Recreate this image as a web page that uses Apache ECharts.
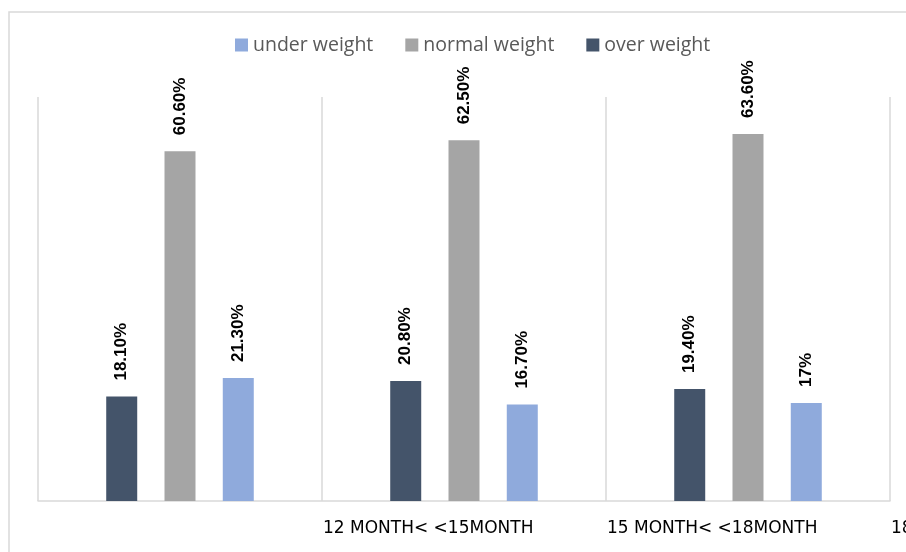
<!DOCTYPE html>
<html>
<head>
<meta charset="utf-8">
<script src="https://cdn.jsdelivr.net/npm/echarts@6/dist/echarts.min.js"></script>
<style>
  html, body { margin: 0; padding: 0; background: #fff; }
  #main { width: 906px; height: 552px; }
</style>
</head>
<body>
<div id="main"></div>
<script>
// data
var groups = ['group 1', 'group 2', 'group 3'];
// labels sit on the split lines (left aligned), the first one is empty
var tickLabels = ['', '12 MONTH< <15MONTH', '15 MONTH< <18MONTH', '18 MONTH< <24MONTH'];
var legendOrder = ['under weight', 'normal weight', 'over weight'];
var overWeight = [18.1, 20.8, 19.4];
var normalWeight = [60.6, 62.5, 63.6];
var underWeight = [21.3, 16.7, 17];

var myChart = echarts.init(document.getElementById('main'));

function pct(p) {
    var v = p.value;
    return (Number.isInteger(v) ? v : v.toFixed(2)) + '%';
}

var barLabel = {
    show: true,
    position: 'top',
    rotate: 90,
    align: 'left',
    verticalAlign: 'middle',
    distance: 16,
    color: '#000',
    fontWeight: 'bold',
    fontSize: 17,
    fontFamily: 'Liberation Sans',
    formatter: pct
};

var option = {
    backgroundColor: '#fff',
    animation: false,
    graphic: [{
        type: 'rect',
        shape: { x: 9, y: 12, width: 1000, height: 1000 },
        style: { fill: 'none', stroke: '#d9d9d9', lineWidth: 1.5 },
        silent: true
    }],
    legend: {
        data: legendOrder,
        top: 30,
        left: 230,
        icon: 'rect',
        itemWidth: 13,
        itemHeight: 13,
        itemGap: 32,
        textStyle: { color: '#595959', fontSize: 19.5, fontFamily: 'Open Sans' }
    },
    grid: { left: 38, right: 16, top: 97, bottom: 51, containLabel: false, outerBoundsMode: 'none' },
    xAxis: [{
        type: 'category',
        data: groups,
        axisLine: { lineStyle: { color: '#d9d9d9', width: 1.5 } },
        axisTick: { show: false },
        axisLabel: { show: false },
        splitLine: { show: true, interval: 0, lineStyle: { color: '#d9d9d9', width: 1.5 } }
    }, {
        type: 'category',
        data: tickLabels,
        position: 'bottom',
        boundaryGap: false,
        axisLine: { show: false },
        axisTick: { show: false },
        splitLine: { show: false },
        axisLabel: {
            interval: 0,
            align: 'left',
            margin: 19,
            color: '#000',
            fontSize: 17,
            fontFamily: 'DejaVu Sans',
            padding: [0, 0, 0, 1]
        }
    }],
    yAxis: {
        type: 'value',
        min: 0,
        max: 70,
        show: false
    },
    series: [{
        name: 'over weight',
        type: 'bar',
        data: overWeight,
        barWidth: 31,
        barGap: '88%',
        itemStyle: { color: '#44546A' },
        label: barLabel
    }, {
        name: 'normal weight',
        type: 'bar',
        data: normalWeight,
        barWidth: 31,
        barGap: '88%',
        itemStyle: { color: '#A5A5A5' },
        label: barLabel
    }, {
        name: 'under weight',
        type: 'bar',
        data: underWeight,
        barWidth: 31,
        barGap: '88%',
        itemStyle: { color: '#8FAADC' },
        label: barLabel
    }]
};

myChart.setOption(option, true);
window.onresize = myChart.resize;
</script>
</body>
</html>
